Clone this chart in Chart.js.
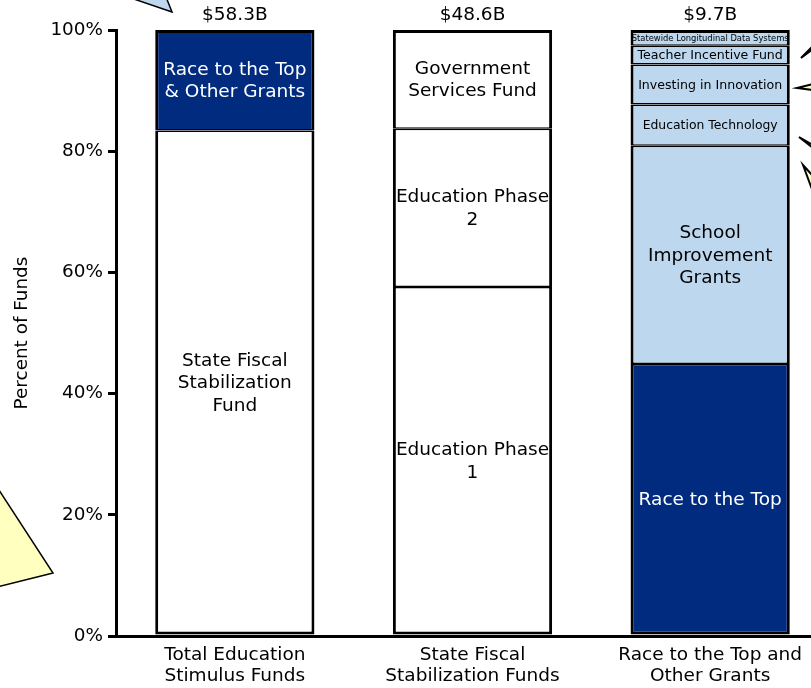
<!DOCTYPE html>
<html>
<head>
<meta charset="utf-8">
<script src="https://cdn.jsdelivr.net/npm/chart.js@4.4.0/dist/chart.umd.min.js"></script>
<style>
  html, body { margin: 0; padding: 0; background: #fff; overflow: hidden; }
  #wrap { width: 829px; height: 688px; }
</style>
</head>
<body>
<div id="wrap"><canvas id="bar-chart"></canvas></div>
<script>
// data (percent of each bar)
const categories = [
  ["Total Education", "Stimulus Funds"],
  ["State Fiscal", "Stabilization Funds"],
  ["Race to the Top and", "Other Grants"],
]
const totals = ["$58.3B", "$48.6B", "$9.7B"]

const totalNames = ["State Fiscal\nStabilization\nFund", "Race to the Top\n& Other Grants"]
const totalValues = [83.4, 16.6]

const fiscalNames = ["Education Phase\n1", "Education Phase\n2", "Government\nServices Fund"]
const fiscalValues = [57.6, 26.1, 16.3]

const grantNames = [
  "Race to the Top",
  "School\nImprovement\nGrants",
  "Education Technology",
  "Investing in Innovation",
  "Teacher Incentive Fund",
  "Statewide Longitudinal Data Systems",
]
const grantValues = [44.9, 36.0, 6.8, 6.6, 3.1, 2.6]

const yTickValues = [0, 20, 40, 60, 80, 100]

// styles
const NAVY = "#002b7f"
const LIGHT = "#bdd7ee"
const FONT = "'DejaVu Sans', Verdana, sans-serif"
const segmentStyle = {
  "Race to the Top\n& Other Grants": { fill: NAVY, text: "#fff" },
  "Race to the Top": { fill: NAVY, text: "#fff" },
  "School\nImprovement\nGrants": { fill: LIGHT },
  "Education Technology": { fill: LIGHT, size: 12.4 },
  "Investing in Innovation": { fill: LIGHT, size: 12.6 },
  "Teacher Incentive Fund": { fill: LIGHT, size: 12.6 },
  "Statewide Longitudinal Data Systems": { fill: LIGHT, size: 8.4 },
}

const groups = [
  [totalNames, totalValues],
  [fiscalNames, fiscalValues],
  [grantNames, grantValues],
]
const datasets = []
groups.forEach(([names, values], bar) => {
  names.forEach((name, i) => {
    const data = categories.map(() => null)
    data[bar] = values[i]
    const st = segmentStyle[name] || {}
    datasets.push({
      label: name,
      data: data,
      backgroundColor: st.fill || "#fff",
      borderColor: "#000",
      borderWidth: {
        left: 3,
        right: 3,
        bottom: i === 0 ? 3 : 1.5,
        top: i === names.length - 1 ? 3 : 1.5,
      },
      borderSkipped: false,
      textColor: st.text || "#000",
      textSize: st.size || 18.5,
    })
  })
})

const segmentLabels = {
  id: "segmentLabels",
  afterDatasetsDraw(chart) {
    const ctx = chart.ctx
    ctx.save()
    ctx.textAlign = "center"
    ctx.textBaseline = "middle"
    chart.data.datasets.forEach((ds, di) => {
      const meta = chart.getDatasetMeta(di)
      meta.data.forEach((el, i) => {
        if (ds.data[i] == null) return
        const { x, y, base } = el.getProps(["x", "y", "base"], true)
        const lines = ds.label.split("\n")
        const lh = ds.textSize * 1.22
        const cy = (y + base) / 2 + 1
        ctx.fillStyle = ds.textColor
        ctx.font = ds.textSize + "px " + FONT
        lines.forEach((line, k) => {
          ctx.fillText(line, x, cy + (k - (lines.length - 1) / 2) * lh)
        })
      })
    })
    // totals above bars
    const xs = chart.scales.x
    ctx.fillStyle = "#000"
    ctx.font = "18.5px " + FONT
    totals.forEach((t, i) => {
      ctx.fillText(t, xs.getPixelForValue(i), chart.chartArea.top - 15)
    })
    ctx.restore()
  },
}

// partial callout shapes cut by the picture edges
const callouts = {
  id: "callouts",
  afterDraw(chart) {
    const ctx = chart.ctx
    const shape = (pts, fill) => {
      ctx.beginPath()
      ctx.moveTo(pts[0][0], pts[0][1])
      pts.slice(1).forEach((p) => ctx.lineTo(p[0], p[1]))
      ctx.closePath()
      ctx.fillStyle = fill
      ctx.fill()
      ctx.stroke()
    }
    ctx.save()
    ctx.strokeStyle = "#000"
    ctx.lineWidth = 1.5
    shape([[128, -3], [172, 12], [166, -3]], LIGHT)
    shape([[-3, 487], [53, 573], [-3, 587]], "#ffffc0")
    ctx.lineWidth = 2
    shape([[801, 58], [813, 46], [813, 49]], "#ffffc0")
    shape([[797, 88], [813, 84], [813, 90]], "#ffffc0")
    shape([[799, 137], [813, 148], [813, 145]], "#ffffc0")
    shape([[803, 165], [813, 192], [813, 176]], "#ffffc0")
    ctx.restore()
  },
}

Chart.defaults.font.family = FONT
Chart.defaults.color = "#000"

new Chart(document.getElementById("bar-chart"), {
  type: "bar",
  data: { labels: categories, datasets: datasets },
  options: {
    responsive: true,
    maintainAspectRatio: false,
    animation: false,
    layout: { padding: { top: 30, right: 0, left: 0, bottom: 0 } },
    categoryPercentage: 1,
    barPercentage: 0.67,
    plugins: { legend: { display: false }, tooltip: { enabled: false } },
    scales: {
      x: {
        stacked: true,
        grid: { display: false, drawTicks: false },
        border: { display: true, color: "#000", width: 3 },
        ticks: { font: { size: 18.5, lineHeight: 1.14 }, padding: 9, maxRotation: 0 },
        afterFit: (s) => { s.height = 52 },
      },
      y: {
        stacked: true,
        min: 0,
        max: 100,
        afterBuildTicks: (s) => { s.ticks = yTickValues.map((v) => ({ value: v })) },
        grid: { display: true, drawOnChartArea: false, drawTicks: true, tickLength: 8, lineWidth: 3, color: "#000" },
        border: { display: true, color: "#000", width: 3 },
        ticks: { font: { size: 18.4 }, padding: 5, callback: (v) => v + "%" },
        title: { display: true, text: "Percent of Funds", font: { size: 18.4 }, padding: { top: 11, bottom: 0 } },
        afterFit: (s) => { s.width = 116 },
      },
    },
  },
  plugins: [segmentLabels, callouts],
})
</script>
</body>
</html>
